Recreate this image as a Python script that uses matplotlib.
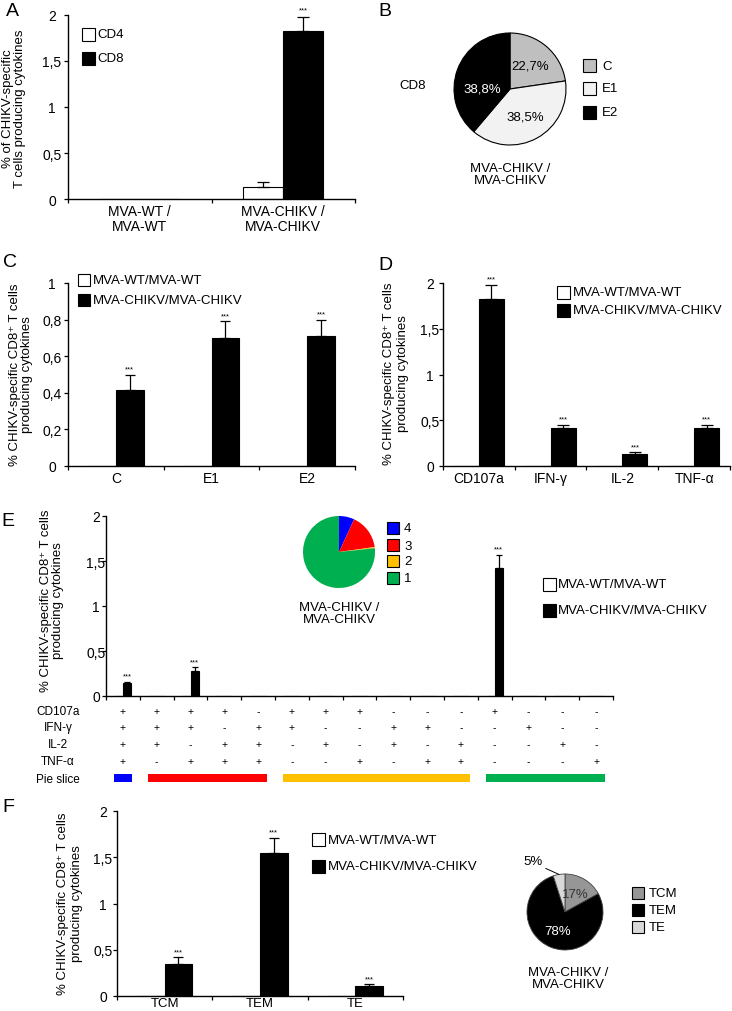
import matplotlib
matplotlib.use("Agg")
import matplotlib.pyplot as plt
import numpy as np
from matplotlib.patches import Rectangle
from matplotlib.ticker import FuncFormatter

W, H, DPI = 732, 1012, 100

# ---- data -------------------------------------------------------------
A_groups = ["MVA-WT /\nMVA-WT", "MVA-CHIKV /\nMVA-CHIKV"]
A_cd4 = [0, 0.13]
A_cd4_err = [0, 0.06]
A_cd8 = [0, 1.83]
A_cd8_err = [0, 0.15]
A_stars = [False, True]

B_antigens = ["C", "E1", "E2"]
B_pct = [22.7, 38.5, 38.8]

C_antigens = ["C", "E1", "E2"]
C_wt = [0, 0, 0]
C_chikv = [0.415, 0.70, 0.71]
C_err = [0.085, 0.09, 0.09]
C_stars = [True, True, True]

D_cytokines = ["CD107a", "IFN-γ", "IL-2", "TNF-α"]
D_wt = [0, 0, 0, 0]
D_chikv = [1.83, 0.41, 0.13, 0.41]
D_err = [0.15, 0.04, 0.02, 0.04]
D_stars = [True, True, True, True]

E_markers = ["CD107a", "IFN-γ", "IL-2", "TNF-α"]
E_signs = [
    "++++-+++---+---",
    "+++-++--++--+--",
    "++-++-+-+-+--+-",
    "+-+++--+-++---+",
]
E_wt = [0] * 15
E_chikv = [0.14, 0, 0.28, 0, 0, 0, 0, 0, 0, 0, 0, 1.42, 0, 0, 0]
E_err = [0.02, 0, 0.04, 0, 0, 0, 0, 0, 0, 0, 0, 0.15, 0, 0, 0]
E_stars = [True, False, True] + [False] * 8 + [True, False, False, False]
E_pie_labels = ["4", "3", "2", "1"]
E_pie = [6.9, 15.9, 0.5, 76.7]

F_subsets = ["TCM", "TEM", "TE"]
F_wt = [0, 0, 0]
F_chikv = [0.35, 1.55, 0.11]
F_err = [0.07, 0.16, 0.02]
F_stars = [True, True, True]
F_pct = [17, 78, 5]

FUNC_COLORS = {4: "#0000ff", 3: "#ff0000", 2: "#ffc000", 1: "#00b050"}

plt.rcParams["font.family"] = ["Liberation Sans", "DejaVu Sans"]
plt.rcParams["font.size"] = 9.5

fig = plt.figure(figsize=(W / DPI, H / DPI), dpi=DPI)


def pt(px):
    return px * 72.0 / DPI


def px_axes(left, top, right, bottom):
    return fig.add_axes([left / W, 1 - bottom / H, (right - left) / W, (bottom - top) / H])


def ftext(x, y, s, **kw):
    return fig.text(x / W, 1 - y / H, s, **kw)


def comma(v, _pos=None):
    return f"{v:g}".replace(".", ",")


def swatches(x, ys, colors, labels, size=13, gap=3, fs=9.5):
    for y, c, lab in zip(ys, colors, labels):
        fig.add_artist(Rectangle((x / W, 1 - (y + size / 2) / H), size / W, size / H,
                                 transform=fig.transFigure, facecolor=c,
                                 edgecolor="black", linewidth=0.8))
        ftext(x + size + gap, y + 0.5, lab, ha="left", va="center", fontsize=fs)


def ylabel(x, y, s, ls):
    ftext(x, y, s, rotation=90, ha="center", va="center", fontsize=9.5,
          linespacing=ls, multialignment="center")


def bar_panel(box, names, wt, chikv, err, stars, ymax, ystep, width, cap,
              label_off, wt_err=None, xlabels=True, star_off=1.5, xpad=5, xfs=10):
    ax = px_axes(*box)
    n = len(names)
    centers = np.arange(n) + 0.5
    ax.bar(centers - width, wt, width, align="edge", color="white",
           edgecolor="black", linewidth=0.8)
    ax.bar(centers, chikv, width, align="edge", color="black",
           edgecolor="black", linewidth=0.8)
    mids = centers + width / 2
    chikv = np.asarray(chikv, float)
    err = np.asarray(err, float)
    has = err > 0
    ax.errorbar(mids[has], chikv[has], yerr=[np.zeros(has.sum()), err[has]],
                fmt="none", ecolor="black", elinewidth=0.9, capsize=cap, capthick=0.9)
    if wt_err is not None:
        wt_a = np.asarray(wt, float)
        we = np.asarray(wt_err, float)
        h2 = we > 0
        ax.errorbar((centers - width / 2)[h2], wt_a[h2], yerr=[np.zeros(h2.sum()), we[h2]],
                    fmt="none", ecolor="black", elinewidth=0.9, capsize=cap, capthick=0.9)
    for m, v, e, s in zip(mids, chikv, err, stars):
        if s:
            ax.annotate("***", (m, v + e), xytext=(0, star_off), textcoords="offset points",
                        ha="center", va="bottom", fontsize=5.5)
    ax.set_xlim(0, n)
    ax.set_ylim(0, ymax)
    ax.spines[["top", "right"]].set_visible(False)
    ax.spines[["left", "bottom"]].set_linewidth(1.0)
    ax.set_yticks(np.arange(0, ymax + 1e-9, ystep))
    ax.yaxis.set_major_formatter(FuncFormatter(comma))
    ax.set_xticks(centers)
    ax.set_xticklabels(names if xlabels else [""] * n, fontsize=xfs, linespacing=1.05)
    ax.set_xticks(np.arange(n + 1), minor=True)
    ax.tick_params(axis="x", which="major", length=0, pad=pt(xpad))
    ax.tick_params(axis="x", which="minor", length=pt(4), width=0.9, direction="out")
    ax.tick_params(axis="y", length=pt(4), width=0.9, direction="out",
                   pad=pt(label_off - 4), labelsize=10)
    plt.setp(ax.get_yticklabels(), ha="center")
    return ax, centers


# ---- A ----------------------------------------------------------------
bar_panel((68, 16, 355, 200), A_groups, A_cd4, A_cd8, A_cd8_err, A_stars,
          2, 0.5, 0.28, 4.5, 16, wt_err=A_cd4_err, star_off=2.5)
swatches(82, [35, 59], ["white", "black"], ["CD4", "CD8"], size=13, gap=2)
ylabel(14, 109, "% of CHIKV-specific\nT cells producing cytokines", 0.9)

# ---- B ----------------------------------------------------------------
axb = px_axes(454, 34, 566, 146)
wedges, _, autos = axb.pie(
    B_pct, colors=["#bfbfbf", "#f2f2f2", "black"], startangle=90, counterclock=False,
    autopct=lambda p: f"{p:.1f}%".replace(".", ","), pctdistance=0.56,
    wedgeprops=dict(edgecolor="black", linewidth=0.8), textprops=dict(fontsize=9.5))
autos[2].set_color("white")
autos[2].set_position((-0.5, 0.0))
for w in wedges:
    w.set_clip_on(False)
axb.set_xlim(-1, 1)
axb.set_ylim(-1, 1)
swatches(583, [66, 89, 113], ["#bfbfbf", "#f2f2f2", "black"], B_antigens, size=13, gap=6)
ftext(413, 86, "CD8", ha="center", va="center")
ftext(510, 175, "MVA-CHIKV /\nMVA-CHIKV", ha="center", va="center", linespacing=1.1)

# ---- C ----------------------------------------------------------------
bar_panel((68, 284, 355, 467), C_antigens, C_wt, C_chikv, C_err, C_stars,
          1, 0.2, 0.29, 3.5, 16)
swatches(78, [281, 301], ["white", "black"], ["MVA-WT/MVA-WT", "MVA-CHIKV/MVA-CHIKV"],
         size=12, gap=3)
ylabel(21, 375, "% CHIKV-specific CD8⁺ T cells\nproducing cytokines", 1.05)

# ---- D ----------------------------------------------------------------
bar_panel((443, 284, 730, 467), D_cytokines, D_wt, D_chikv, D_err, D_stars,
          2, 0.5, 0.35, 4.5, 13)
swatches(557, [293, 311], ["white", "black"], ["MVA-WT/MVA-WT", "MVA-CHIKV/MVA-CHIKV"],
         size=13, gap=3)
ylabel(396, 374, "% CHIKV-specific CD8⁺ T cells\nproducing cytokines", 1.18)

# ---- E ----------------------------------------------------------------
axe, e_centers = bar_panel((106, 517, 613, 697), [""] * 15, E_wt, E_chikv, E_err, E_stars,
                           2, 0.5, 0.24, 2.2, 10, xlabels=False)
row_y = [712, 728, 745, 762]
tr = axe.get_xaxis_transform()
for name, signs, y in zip(E_markers, E_signs, row_y):
    ftext(58, y, name, ha="center", va="center", fontsize=8.5)
    for c, s in zip(e_centers, signs):
        axe.text(c, (697 - y) / 180, s, transform=tr, ha="center", va="center",
                 fontsize=7.5, clip_on=False)
ftext(58, 780, "Pie slice", ha="center", va="center", fontsize=8.5)
n_funcs = [sum(row[i] == "+" for row in E_signs) for i in range(15)]
start = 0
for i in range(1, 16):
    if i == 15 or n_funcs[i] != n_funcs[start]:
        axe.add_patch(Rectangle((start + 0.24, (697 - 783) / 180), i - start - 0.48, 8 / 180,
                                transform=tr, clip_on=False, linewidth=0,
                                facecolor=FUNC_COLORS[n_funcs[start]]))
        start = i
ylabel(52, 601, "% CHIKV-specific CD8⁺ T cells\nproducing cytokines", 1.05)

axep = px_axes(303, 517, 375, 589)
axep.pie(E_pie, colors=[FUNC_COLORS[int(k)] for k in E_pie_labels], startangle=90,
         counterclock=False, wedgeprops=dict(linewidth=0))
axep.set_xlim(-1, 1)
axep.set_ylim(-1, 1)
swatches(387, [529, 546, 562, 579], [FUNC_COLORS[int(k)] for k in E_pie_labels],
         E_pie_labels, size=12, gap=5)
ftext(339, 614, "MVA-CHIKV /\nMVA-CHIKV", ha="center", va="center", linespacing=1.05)
swatches(543, [585, 611], ["white", "black"], ["MVA-WT/MVA-WT", "MVA-CHIKV/MVA-CHIKV"],
         size=13, gap=2)

# ---- F ----------------------------------------------------------------
bar_panel((117, 812, 403, 997), F_subsets, F_wt, F_chikv, F_err, F_stars,
          2, 0.5, 0.29, 3.5, 14, xpad=1, xfs=9.5)
swatches(312, [840, 867], ["white", "black"], ["MVA-WT/MVA-WT", "MVA-CHIKV/MVA-CHIKV"],
         size=13, gap=3)
ylabel(70, 904, "% CHIKV-specific CD8⁺ T cells\nproducing cytokines", 1.18)

axf = px_axes(527, 875, 603, 951)
f_colors = ["#969696", "black", "#d9d9d9"]
fw, _, fauto = axf.pie(
    F_pct, colors=f_colors, startangle=90, counterclock=False,
    autopct=lambda p: f"{p:.0f}%" if p > 10 else "", pctdistance=0.55,
    wedgeprops=dict(edgecolor="#404040", linewidth=0.6), textprops=dict(fontsize=9.5))
fauto[0].set_color("#333333")
fauto[1].set_color("white")
for w in fw:
    w.set_clip_on(False)
mid = np.deg2rad((fw[2].theta1 + fw[2].theta2) / 2)
axf.annotate(f"{F_pct[2]}%", (np.cos(mid), np.sin(mid)), xytext=(-0.58, 1.18),
             ha="right", va="bottom", fontsize=9.5, annotation_clip=False,
             arrowprops=dict(arrowstyle="-", color="black", lw=0.7, shrinkA=0, shrinkB=0,
                             relpos=(1, 0)))
axf.set_xlim(-1, 1)
axf.set_ylim(-1, 1)
swatches(632, [894, 911, 928], f_colors, F_subsets, size=12, gap=5)
ftext(568, 979, "MVA-CHIKV /\nMVA-CHIKV", ha="center", va="center", linespacing=1.05)

# ---- panel letters ----------------------------------------------------
for letter, x, y in [("A", 12, 12), ("B", 385, 11), ("C", 10, 263),
                     ("D", 385, 266), ("E", 8, 521), ("F", 8, 808)]:
    ftext(x, y, letter, ha="center", va="center", fontsize=14)

fig.savefig("out.png", dpi=DPI)
